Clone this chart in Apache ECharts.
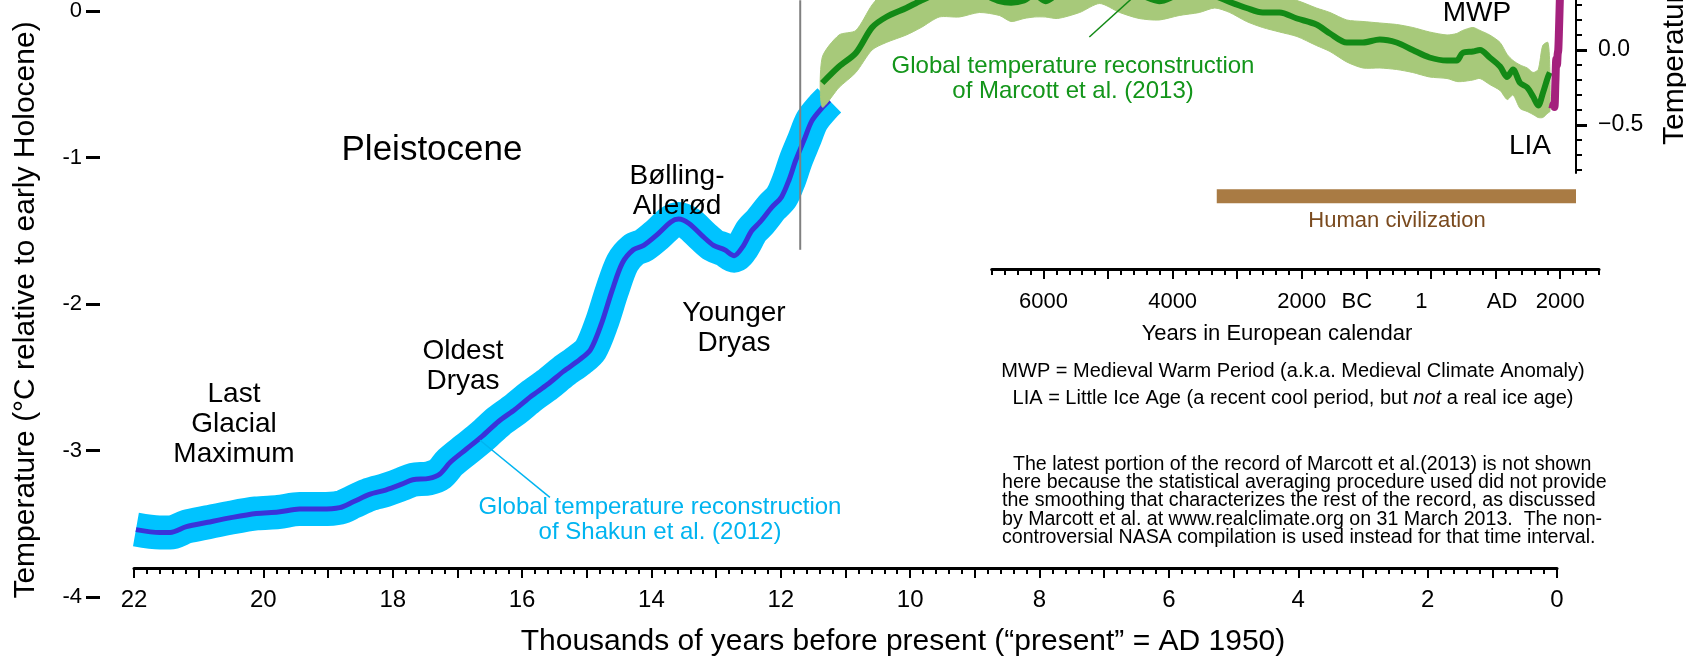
<!DOCTYPE html>
<html><head><meta charset="utf-8">
<script src="https://cdn.jsdelivr.net/npm/echarts@6/dist/echarts.min.js"></script>
<style>html,body{margin:0;padding:0;background:#fff}#c{width:1686px;height:657px}</style>
</head><body><div id="c"></div>
<script>
const FONT = '"Liberation Sans", Arial, Helvetica, sans-serif';

// Shakun et al. (2012): thousands of years BP, temperature (°C rel. early Holocene, left axis)
const shakunAge = [21.97,21.60,21.44,21.19,20.86,20.52,20.11,19.77,19.44,19.11,18.82,18.61,18.36,18.11,17.86,17.69,17.44,17.27,17.11,16.86,16.61,16.36,16.11,15.86,15.61,15.36,15.11,14.94,14.77,14.61,14.45,14.28,14.12,13.92,13.70,13.58,13.42,13.20,13.04,12.87,12.72,12.59,12.45,12.32,12.14,11.99,11.87,11.77,11.64,11.52,11.36,11.25];
const shakunTemp = [-3.54,-3.56,-3.56,-3.52,-3.49,-3.46,-3.43,-3.42,-3.40,-3.40,-3.39,-3.35,-3.30,-3.27,-3.23,-3.20,-3.19,-3.16,-3.08,-2.99,-2.90,-2.80,-2.72,-2.63,-2.55,-2.46,-2.38,-2.31,-2.13,-1.91,-1.72,-1.63,-1.60,-1.53,-1.44,-1.42,-1.45,-1.54,-1.60,-1.63,-1.67,-1.61,-1.50,-1.44,-1.34,-1.27,-1.15,-1.02,-0.88,-0.75,-0.66,-0.61];

// Marcott et al. (2013): thousands of years BP, mean / lower / upper (°C anomaly, right axis)
const marcottAge = [11.36,11.10,10.84,10.59,10.37,10.06,9.83,9.55,9.24,8.93,8.62,8.44,8.24,8.08,7.91,7.72,7.38,7.07,6.76,6.46,6.15,5.84,5.53,5.29,5.06,4.80,4.55,4.29,4.02,3.72,3.51,3.25,3.00,2.74,2.48,2.23,1.97,1.70,1.55,1.46,1.30,1.19,1.04,0.88,0.77,0.68,0.57,0.46,0.37,0.29,0.22,0.14,0.11];
const marcottTemp = [-0.22,-0.11,-0.02,0.15,0.22,0.28,0.33,0.38,0.40,0.38,0.325,0.315,0.33,0.37,0.325,0.37,0.40,0.42,0.40,0.37,0.325,0.37,0.38,0.36,0.32,0.28,0.25,0.25,0.21,0.17,0.11,0.05,0.05,0.07,0.05,0.00,-0.05,-0.07,-0.07,-0.02,-0.01,0.00,-0.05,-0.11,-0.18,-0.13,-0.22,-0.25,-0.31,-0.37,-0.29,-0.18,-0.15];
const marcottLow = [-0.38,-0.25,-0.15,0.00,0.05,0.10,0.15,0.22,0.22,0.25,0.23,0.19,0.21,0.22,0.22,0.21,0.25,0.31,0.25,0.21,0.20,0.23,0.25,0.28,0.25,0.19,0.15,0.12,0.09,0.03,-0.01,-0.08,-0.12,-0.12,-0.13,-0.15,-0.18,-0.19,-0.21,-0.21,-0.20,-0.19,-0.23,-0.27,-0.33,-0.30,-0.39,-0.41,-0.43,-0.45,-0.45,-0.42,-0.41];
const marcottHigh = [-0.05,0.10,0.13,0.30,0.40,0.43,0.47,0.53,0.55,0.53,0.48,0.46,0.48,0.52,0.48,0.52,0.55,0.57,0.55,0.52,0.48,0.52,0.53,0.51,0.47,0.37,0.35,0.35,0.33,0.28,0.25,0.20,0.19,0.18,0.17,0.15,0.12,0.10,0.11,0.13,0.15,0.13,0.10,0.05,-0.03,-0.07,-0.10,-0.12,-0.15,-0.13,0.03,0.05,-0.13];

// NASA compilation: calendar year, anomaly (right axis)
const nasaYear = [1880,1895,1910,1925,1940,1950,1960,1970,1980,1990,2000,2013];
const nasaTemp = [-0.39,-0.36,-0.38,-0.22,-0.06,-0.10,-0.03,0.00,0.12,0.27,0.42,0.58];

// Other features (thousands of years BP)
const holoceneBoundary = [11.7];
const civilizationSpan = [5.26, -0.294];   // start, end of the brown bar
const civilizationLevel = [-1.265];

// Tick labels
const bottomLabelVals = [0,2,4,6,8,10,12,14,16,18,20,22];
const leftTickVals = [-4,-3,-2,-1,0];
const leftTickLabels = ['-4','-3','-2','-1','0'];
const rightMinorVals = [-0.8,-0.7,-0.6,-0.5,-0.4,-0.3,-0.2,-0.1,0,0.1,0.2,0.3];
const rightMajorVals = [0,-0.5];
const rightMajorLabels = ['0.0','\u22120.5'];
const calMajorVals = [-6000,-5000,-4000,-3000,-2000,-1000,0,1000,2000];
const calLabelVals = [-6000,-4000,-2000,-1150,-150,1100,2000];
const calLabelText = ['6000','4000','2000','BC','1','AD','2000'];

const shakunData = shakunAge.map((a,i)=>[a, shakunTemp[i]]);
const marcottData = marcottAge.map((a,i)=>[a, marcottTemp[i]]);
const marcottBand = marcottAge.map((a,i)=>[a, marcottLow[i], marcottHigh[i]]);
const nasaData = nasaYear.map((y,i)=>[(1950-y)/1000, nasaTemp[i]]);

const TOPV = 0.0734;
const black = '#000';

function bandRender(params, api){
  if (params.dataIndex !== 0) return null;
  const pts = [];
  for (let i=0;i<marcottBand.length;i++) pts.push(api.coord([marcottBand[i][0], marcottBand[i][2]]));
  for (let i=marcottBand.length-1;i>=0;i--) pts.push(api.coord([marcottBand[i][0], marcottBand[i][1]]));
  return {type:'polygon', shape:{points:pts, smooth:0.25}, style:{fill:'#a7c97a', stroke:'#a7c97a', lineWidth:1}};
}

function txt(text, x, y, size, opts){
  opts = opts || {};
  return {type:'text', x:x, y:y, rotation: opts.rotation || 0, z:50,
    style:Object.assign({text:text, fill: opts.color || black, fontSize:size, fontFamily:FONT,
      textAlign: opts.align || 'center', textVerticalAlign:'middle', lineHeight: opts.lineHeight || size}, opts.style||{})};
}

const chart = echarts.init(document.getElementById('c'), null, {renderer:'canvas'});
const option = {
  animation:false,
  backgroundColor:'#fff',
  textStyle:{fontFamily:FONT},
  grid:[
    {left:134, right:110, top:0, bottom:60},
    {left:134, right:129, top:0, bottom:89},
    {left:134, right:110, top:0, height:173},
    {left:991.75, right:87, top:0, height:269}
  ],
  xAxis:[
    {gridIndex:0, type:'value', inverse:true, min:-0.294, max:22, show:false},
    {gridIndex:1, type:'value', position:'bottom', inverse:true, min:0, max:22, interval:1,
      axisLine:{onZero:false, lineStyle:{color:black, width:3}},
      axisTick:{length:10, lineStyle:{color:black, width:2}},
      minorTick:{show:true, splitNumber:5, length:6, lineStyle:{color:black, width:2}},
      axisLabel:{customValues:bottomLabelVals, fontSize:24, color:black, margin:20, fontFamily:FONT},
      splitLine:{show:false}, minorSplitLine:{show:false}},
    {gridIndex:2, type:'value', inverse:true, min:-0.294, max:22, show:false},
    {gridIndex:3, type:'value', position:'bottom', min:-6800, max:2600, interval:200,
      axisLine:{onZero:false, lineStyle:{color:black, width:3}},
      axisTick:{length:6, lineStyle:{color:black, width:2}},
      axisLabel:{show:false}, splitLine:{show:false}},
    {gridIndex:3, type:'value', position:'bottom', offset:0, min:-6800, max:2600,
      axisLine:{show:false, onZero:false},
      axisTick:{customValues:calMajorVals, length:10, lineStyle:{color:black, width:2}},
      axisLabel:{customValues:calLabelVals, fontSize:22, color:black, margin:22, fontFamily:FONT,
        formatter:(v)=>{const i=calLabelVals.indexOf(v); return i>=0?calLabelText[i]:'';}},
      splitLine:{show:false}}
  ],
  yAxis:[
    {gridIndex:0, type:'value', min:-4, max:TOPV, position:'left', offset:34,
      axisLine:{show:false, onZero:false},
      axisTick:{show:true, customValues:leftTickVals, length:14, lineStyle:{color:black, width:3}},
      axisLabel:{customValues:leftTickVals, fontSize:22, color:black, margin:18, fontFamily:FONT,
        formatter:(v)=>{const i=leftTickVals.indexOf(v); return i>=0?leftTickLabels[i]:'';}},
      splitLine:{show:false}},
    {gridIndex:1, type:'value', min:0, max:1, show:false},
    {gridIndex:2, type:'value', min:-0.82, max:0.3333, position:'right',
      axisLine:{show:true, onZero:false, lineStyle:{color:black, width:2}},
      axisTick:{show:true, customValues:rightMinorVals, length:6, lineStyle:{color:black, width:2}},
      axisLabel:{show:false}, splitLine:{show:false}},
    {gridIndex:2, type:'value', min:-0.82, max:0.3333, position:'right', offset:0,
      axisLine:{show:false, onZero:false},
      axisTick:{show:true, customValues:rightMajorVals, length:11, lineStyle:{color:black, width:3}},
      axisLabel:{customValues:rightMajorVals, fontSize:23, color:black, margin:22, fontFamily:FONT,
        formatter:(v)=>{const i=rightMajorVals.indexOf(v); return i>=0?rightMajorLabels[i]:'';}},
      splitLine:{show:false}},
    {gridIndex:3, type:'value', min:0, max:1, show:false}
  ],
  series:[
    {type:'line', name:'Shakun band', xAxisIndex:0, yAxisIndex:0, data:shakunData, smooth:0.3, symbol:'none',
      lineStyle:{width:34, color:'#00c3ff', cap:'butt', join:'round'}, z:1, silent:true},
    {type:'custom', name:'Marcott band', xAxisIndex:2, yAxisIndex:2, data:marcottBand, renderItem:bandRender, z:2, silent:true},
    {type:'line', name:'Shakun et al. (2012)', xAxisIndex:0, yAxisIndex:0, data:shakunData, smooth:0.3, symbol:'none',
      lineStyle:{width:5, color:'#3b32d9'}, z:1.5},
    {type:'line', name:'Marcott et al. (2013)', xAxisIndex:2, yAxisIndex:2, data:marcottData, smooth:0.3, symbol:'none',
      lineStyle:{width:6, color:'#138a16'}, z:4},
    {type:'line', name:'NASA', xAxisIndex:2, yAxisIndex:2, data:nasaData, smooth:0.3, symbol:'none',
      lineStyle:{width:8, color:'#a4217d'}, z:5},
    {type:'line', name:'Pleistocene/Holocene boundary', xAxisIndex:0, yAxisIndex:0, symbol:'none',
      data:[[holoceneBoundary[0], TOPV],[holoceneBoundary[0], -1.63]], lineStyle:{width:2, color:'#808080'}, z:2},
    {type:'line', name:'Human civilization', xAxisIndex:0, yAxisIndex:0, symbol:'none',
      data:[[civilizationSpan[0], civilizationLevel[0]],[civilizationSpan[1], civilizationLevel[0]]],
      lineStyle:{width:14, color:'#a97b44', cap:'butt'}, z:2},
    {type:'line', name:'pointer Shakun', xAxisIndex:0, yAxisIndex:0, symbol:'none',
      data:[[16.65,-2.93],[15.57,-3.32]], lineStyle:{width:1.5, color:'#00b4f0'}, z:6},
    {type:'line', name:'pointer Marcott', xAxisIndex:2, yAxisIndex:2, symbol:'none',
      data:[[7.23,0.087],[6.3,0.45]], lineStyle:{width:1.5, color:'#138a16'}, z:6}
  ],
  graphic:[
    txt('Pleistocene', 432, 150, 35),
    txt('Last\nGlacial\nMaximum', 234, 424, 28, {lineHeight:30}),
    txt('Oldest\nDryas', 463, 366, 28, {lineHeight:30}),
    txt('Bølling-\nAllerød', 677, 191, 28, {lineHeight:30}),
    txt('Younger\nDryas', 734, 328, 28, {lineHeight:30}),
    txt('Global temperature reconstruction\nof Shakun et al. (2012)', 660, 520, 24, {lineHeight:25, color:'#00b4f0'}),
    txt('Global temperature reconstruction\nof Marcott et al. (2013)', 1073, 79, 24, {lineHeight:25, color:'#13951a'}),
    txt('MWP', 1477, 13, 28),
    txt('LIA', 1530, 146, 28),
    txt('Human civilization', 1397, 221, 22, {color:'#7a4a1e'}),
    txt('Years in European calendar', 1277, 334, 22),
    txt('MWP = Medieval Warm Period (a.k.a. Medieval Climate Anomaly)', 1293, 371, 20),
    {type:'text', x:1293, y:398, z:50, style:{text:'LIA = Little Ice Age (a recent cool period, but {i|not} a real ice age)',
      fill:black, fontSize:20, fontFamily:FONT, textAlign:'center', textVerticalAlign:'middle',
      rich:{i:{fontStyle:'italic', fontSize:20, fontFamily:FONT, fill:black}}}},
    txt('The latest portion of the record of Marcott et al.(2013) is not shown', 1013, 465, 19.6, {align:'left'}),
    txt('here because the statistical averaging procedure used did not provide', 1002, 483, 19.6, {align:'left'}),
    txt('the smoothing that characterizes the rest of the record, as discussed', 1002, 501, 19.6, {align:'left'}),
    txt('by Marcott et al. at www.realclimate.org on 31 March 2013.  The non-', 1002, 520, 19.6, {align:'left'}),
    txt('controversial NASA compilation is used instead for that time interval.', 1002, 538, 19.6, {align:'left'}),
    txt('Thousands of years before present (\u201Cpresent\u201D = AD 1950)', 903, 642, 30),
    txt('Temperature (\u00B0C relative to early Holocene)', 26, 310, 30, {rotation:Math.PI/2}),
    txt('Temperature anomaly (\u00B0C)', 1675, 145, 30, {rotation:Math.PI/2, align:'left'})
  ]
};
chart.setOption(option);
</script>
</body></html>
